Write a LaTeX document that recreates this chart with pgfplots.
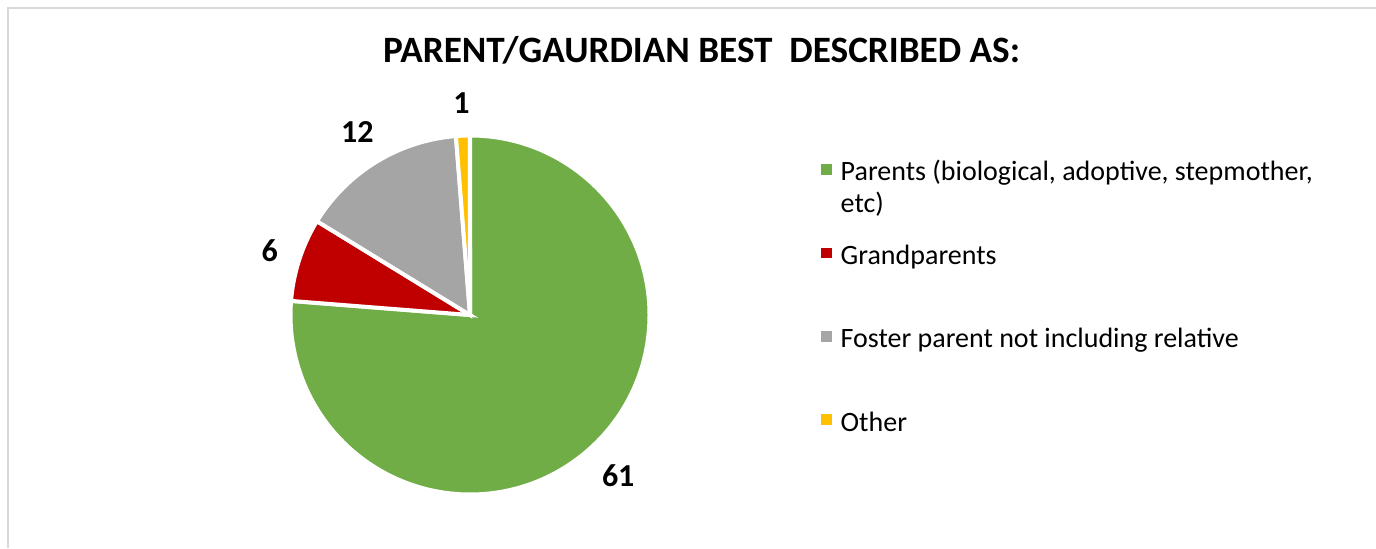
\documentclass[border=0pt]{standalone}
\usepackage{fontspec}
\setmainfont{Carlito}
\usepackage{pgfplots}
\usepackage{pgfplotstable}
\pgfplotsset{compat=1.18}
\definecolor{cParents}{HTML}{70AD47}
\definecolor{cGrand}{HTML}{C00000}
\definecolor{cFoster}{HTML}{A5A5A5}
\definecolor{cOther}{HTML}{FFC000}
\definecolor{frameC}{HTML}{D9D9D9}

\pgfplotstableread{
value color
61 cParents
6 cGrand
12 cFoster
1 cOther
}\piedata

\begin{document}
\begin{tikzpicture}[x=1pt,y=1pt]
\useasboundingbox (0,0) rectangle (688,274);
\fill[white] (0,0) rectangle (688,274);
\draw[frameC, line width=1pt] (3.75,0) -- (3.75,270.25) -- (688,270.25);
\node[font=\bfseries\fontsize{18.6}{22}\selectfont, anchor=base] at (350.75,243) {PARENT/GAURDIAN BEST\ \ DESCRIBED AS:};
\begin{axis}[
  at={(235pt,116.5pt)}, anchor=center,
  x=88.75pt, y=88.75pt, xmin=-1, xmax=1, ymin=-1, ymax=1,
  hide axis, clip=false, scale only axis,
  legend style={draw=none, fill=none, inner sep=0pt, outer sep=0pt,
    at={(1.489,0.941)}, anchor=north west,
    row sep=29pt, column sep=4.5pt,
    font=\fontsize{14}{16}\selectfont,
    nodes={inner sep=0pt}},
  legend cell align=left,
  legend image code/.code={\fill[#1, draw=none] (0pt,-1.8pt) rectangle (5.3pt,3.5pt);},
]
\pgfplotstablegetrowsof{\piedata}
\pgfmathtruncatemacro\N{\pgfplotsretval-1}
\def\total{0}
\pgfplotsforeachungrouped \i in {0,...,\N}{%
  \pgfplotstablegetelem{\i}{value}\of\piedata
  \pgfmathsetmacro\total{\total+\pgfplotsretval}%
}
\def\cum{90}
\pgfplotsforeachungrouped \i in {0,...,\N}{%
  \pgfplotstablegetelem{\i}{value}\of\piedata \let\val\pgfplotsretval
  \pgfplotstablegetelem{\i}{color}\of\piedata \let\col\pgfplotsretval
  \pgfmathsetmacro\endang{\cum-\val/\total*360}%
  \pgfmathsetmacro\midang{(\cum+\endang)/2}%
  \pgfmathsetmacro\labang{\midang+180}%
  \edef\cmd{\noexpand\fill[\col, draw=white, line width=2pt] (axis cs:0,0) -- (axis cs:{1.0113*cos(\cum)},{1.0113*sin(\cum)}) arc[start angle=\cum, end angle=\endang, radius=89.75pt] -- cycle;
  \noexpand\node[font=\noexpand\bfseries\noexpand\fontsize{16}{19}\noexpand\selectfont, anchor=\labang, inner sep=3pt] at (axis cs:{1.1*cos(\midang)},{1.1*sin(\midang)}) {\val};}%
  \cmd
  \global\let\cum\endang
}
\addlegendimage{fill=cParents}
\addlegendentry{\raisebox{0pt}[\height][0pt]{\parbox[t]{260pt}{\strut Parents (biological, adoptive, stepmother,\\ etc)}}}
\addlegendimage{fill=cGrand}
\addlegendentry{\strut Grandparents}
\addlegendimage{fill=cFoster}
\addlegendentry{\strut Foster parent not including relative}
\addlegendimage{fill=cOther}
\addlegendentry{\strut Other}
\end{axis}
\end{tikzpicture}
\end{document}
